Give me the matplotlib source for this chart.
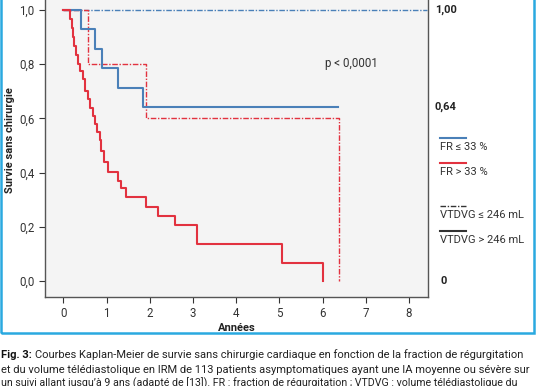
"""
Kaplan-Meier survie sans chirurgie (FR / VTDVG)
"""

import matplotlib
matplotlib.use("Agg")
import matplotlib.pyplot as plt
from matplotlib.patches import Rectangle

plt.rcParams["font.family"] = ["Roboto", "DejaVu Sans"]

# FR > 33 %, VTDVG > 246 mL
t_red = [0, 0.15, 0.19, 0.22, 0.25, 0.29, 0.33, 0.39, 0.45, 0.50, 0.56, 0.62,
         0.68, 0.73, 0.79, 0.84, 0.88, 0.93, 1.04, 1.27, 1.34, 1.45, 1.91,
         2.20, 2.59, 3.09, 5.07, 6.00, 6.00]
s_red = [1.0, 0.967, 0.934, 0.90, 0.867, 0.834, 0.80, 0.775, 0.745, 0.70,
         0.67, 0.64, 0.61, 0.58, 0.55, 0.52, 0.48, 0.44, 0.403, 0.369, 0.342,
         0.309, 0.274, 0.241, 0.207, 0.137, 0.068, 0.068, 0.0]
# FR <= 33 %, VTDVG > 246 mL
t_blue = [0, 0.42, 0.73, 0.90, 1.27, 1.85, 6.36]
s_blue = [1.0, 0.93, 0.857, 0.786, 0.714, 0.643, 0.643]
# FR > 33 %, VTDVG <= 246 mL
t_red_dd = [0, 0.58, 1.91, 6.39, 6.39]
s_red_dd = [1.0, 0.80, 0.60, 0.60, 0.0]
# FR <= 33 %, VTDVG <= 246 mL
t_blue_dd = [0, 8.42]
s_blue_dd = [1.0, 1.0]

yticks = [0.0, 0.2, 0.4, 0.6, 0.8, 1.0]
ytick_labels = ["0,0", "0,2", "0,4", "0,6", "0,8", "1,0"]
xticks = list(range(9))
right_vals = [(1.00, "1,00"), (0.643, "0,64"), (0.0, "0")]
legend_items = ["FR \u2264 33 %", "FR > 33 %", "VTDVG \u2264 246 mL", "VTDVG > 246 mL"]
caption = [
    "Courbes Kaplan-Meier de survie sans chirurgie cardiaque en fonction de la fraction de r\u00e9gurgitation",
    "et du volume t\u00e9l\u00e9diastolique en IRM de 113 patients asymptomatiques ayant une IA moyenne ou s\u00e9v\u00e8re sur",
    "un suivi allant jusqu\u2019\u00e0 9 ans (adapt\u00e9 de [13]). FR : fraction de r\u00e9gurgitation ; VTDVG : volume t\u00e9l\u00e9diastolique du",
]

BLUE = "#4a80b8"
RED = "#e2323f"
DD = (0, (4, 1.2, 1, 1.2))

W, H = 536, 386
fig = plt.figure(figsize=(W / 100, H / 100), dpi=100)
fig.patch.set_facecolor("white")

# blue frame around chart
fig.patches.append(Rectangle((1 / W, (H - 333) / H), 533 / W, 340 / H,
                             transform=fig.transFigure, fill=False,
                             edgecolor="#2aa9e0", linewidth=1.8))

ax = fig.add_axes([45 / W, (H - 297) / H, (428 - 45) / W, 297 / H])
ax.set_facecolor("#f4f4f4")
ax.set_xlim(-0.424, 8.44)
ax.set_ylim(-0.059, 1.037)

ax.step(t_blue_dd, s_blue_dd, where="post", color=BLUE, lw=1.0, ls=DD)
ax.step(t_red_dd, s_red_dd, where="post", color=RED, lw=1.0, ls=DD)
ax.step(t_blue, s_blue, where="post", color=BLUE, lw=1.5)
ax.step(t_red, s_red, where="post", color=RED, lw=1.5)

for sp in ["left", "bottom", "right"]:
    ax.spines[sp].set_color("#555555")
    ax.spines[sp].set_linewidth(1.0)
ax.spines["top"].set_visible(False)

ax.set_yticks(yticks)
ax.set_yticklabels(ytick_labels)
ax.set_xticks(xticks)
ax.tick_params(axis="both", labelsize=8.3, colors="#333333", length=4, width=0.8)
ax.set_xlabel("Ann\u00e9es", fontsize=8, fontweight="bold", color="#222222", labelpad=2)
ax.set_ylabel("Survie sans chirurgie", fontsize=8, fontweight="bold", color="#222222", labelpad=1)
ax.yaxis.set_label_coords(-0.078, 0.53)

ax.text(0.73, 0.775, "p < 0,0001", transform=ax.transAxes, fontsize=8.3, color="#333333")

# values at right of axes
for v, lab in right_vals:
    ax.annotate(lab, xy=(1, v), xycoords=("axes fraction", "data"),
                xytext=(5 if lab != "0" else 9, 0), textcoords="offset points",
                va="center", ha="left", fontsize=8, fontweight="bold", color="#222222")

# legend drawn by hand
leg_line_y = [138, 162.7, 206, 230.7]
leg_styles = [(BLUE, "-", 1.5), (RED, "-", 1.5), ("#333333", DD, 1.0), ("#333333", "-", 1.5)]
for yl, lab, (c, ls, lw) in zip(leg_line_y, legend_items, leg_styles):
    fig.add_artist(plt.Line2D([440 / W, 466 / W], [(H - yl) / H] * 2, color=c,
                              ls=ls, lw=lw, transform=fig.transFigure))
    fig.text(440 / W, (H - yl - 9) / H, lab, fontsize=8, color="#333333", va="center")

# caption
fs = 8.0
fig.text(1 / W, (H - 355) / H, "Fig. 3:", fontsize=fs, fontweight="bold",
         color="#111111", va="center")
fig.text(35 / W, (H - 355) / H, caption[0], fontsize=fs, color="#222222", va="center")
fig.text(1 / W, (H - 370) / H, caption[1], fontsize=fs, color="#222222", va="center")
fig.text(1 / W, (H - 383) / H, caption[2], fontsize=7.7, color="#222222", va="center")

fig.savefig("out.png", dpi=100)
